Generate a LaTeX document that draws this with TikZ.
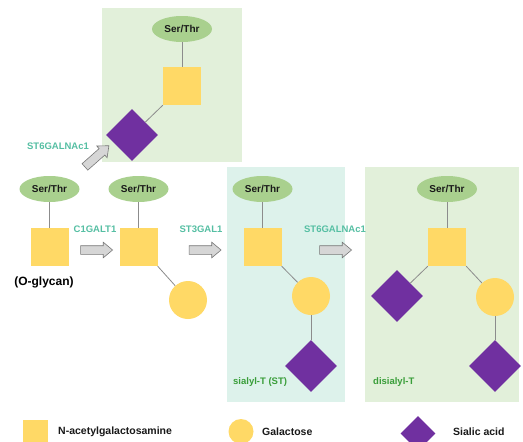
\documentclass[tikz,border=0pt]{standalone}
\usepackage{fontspec}
\setmainfont{Liberation Sans}
\usetikzlibrary{shapes.geometric,shapes.arrows}

\definecolor{galnac}{HTML}{FFD966}
\definecolor{sialic}{HTML}{7030A0}
\definecolor{serfill}{HTML}{A9D08E}
\definecolor{panelgreen}{HTML}{E2F0DA}
\definecolor{panelteal}{HTML}{DDF2EB}
\definecolor{enzymeteal}{HTML}{55BFA3}
\definecolor{stagegreen}{HTML}{3A9E3A}
\definecolor{linkgray}{HTML}{8C8C8C}
\definecolor{arrowfill}{HTML}{D6D6D6}
\definecolor{arrowedge}{HTML}{777777}

\begin{document}
\begin{tikzpicture}[x=1pt,y=-1pt,
  serthr/.style={ellipse, fill=serfill, minimum width=60pt, minimum height=26pt,
    inner sep=0pt, text=black!90, font=\bfseries\fontsize{10}{12}\selectfont},
  gnac/.style={rectangle, fill=galnac, minimum size=38pt, inner sep=0pt},
  gal/.style={circle, fill=galnac, minimum size=38pt, inner sep=0pt},
  sia/.style={diamond, fill=sialic, minimum width=52pt, minimum height=52pt,
    aspect=1, inner sep=0pt},
  link/.style={draw=linkgray, line width=0.8pt},
  enzyme/.style={text=enzymeteal, inner sep=0pt,
    font=\bfseries\fontsize{9.5}{11}\selectfont},
  stage/.style={text=stagegreen, inner sep=0pt, anchor=west,
    font=\bfseries\fontsize{9.5}{11}\selectfont},
  legendtext/.style={inner sep=0pt, anchor=west, text=black!90,
    font=\bfseries\fontsize{10.5}{12}\selectfont},
  blockarrow/.style={single arrow, draw=arrowedge, fill=arrowfill, line width=0.6pt,
    minimum height=32pt, inner xsep=0pt, inner ysep=4pt,
    single arrow head extend=3.5pt, single arrow tip angle=80}]

\clip (0,0) rectangle (523,442);
\fill[white] (0,0) rectangle (523,442);

% background panels
\fill[panelgreen] (102,8) rectangle (242,162);
\fill[panelteal] (227,167) rectangle (345,402);
\fill[panelgreen] (365,167) rectangle (519,402);

% branch: GalNAc with alpha2,6 sialic acid
\node[serthr] (st1) at (182,29) {Ser/Thr};
\node[gnac] (sq1) at (182,86) {};
\node[sia] (dia1) at (132,135) {};
\draw[link] (st1) -- (sq1);
\draw[link] (sq1.south west) -- (dia1);
\node[enzyme] (enz0) at (58,146) {ST6GALNAc1};
\node[blockarrow, rotate=41.5] (arr0) at (95,158) {};

% O-glycan core
\node[serthr] (stA) at (49.5,189) {Ser/Thr};
\node[gnac] (sqA) at (49.5,247) {};
\draw[link] (stA) -- (sqA);
\node[inner sep=0pt, font=\bfseries\fontsize{12}{14}\selectfont] (oglycan) at (44,282) {(O-glycan)};

\node[enzyme] (enz1) at (95,229) {C1GALT1};
\node[blockarrow] (arr1) at (94,250) {};

% T antigen
\node[serthr] (stB) at (138.5,189) {Ser/Thr};
\node[gnac] (sqB) at (138.5,247) {};
\node[gal] (galB) at (188,300) {};
\draw[link] (stB) -- (sqB);
\draw[link] (sqB.south east) -- (galB);

\node[enzyme] (enz2) at (201,229) {ST3GAL1};
\node[blockarrow] (arr2) at (202.5,250) {};

% sialyl-T
\node[serthr] (stC) at (262.5,189) {Ser/Thr};
\node[gnac] (sqC) at (262.5,247) {};
\node[gal] (galC) at (311,296) {};
\node[sia] (diaC) at (311,366) {};
\draw[link] (stC) -- (sqC);
\draw[link] (sqC.south east) -- (galC);
\draw[link] (galC) -- (diaC);
\node[stage] (lblC) at (233,382) {sialyl-T (ST)};

\node[enzyme] (enz3) at (335,229) {ST6GALNAc1};
\node[blockarrow] (arr3) at (333,250) {};

% disialyl-T
\node[serthr] (stD) at (447,189) {Ser/Thr};
\node[gnac] (sqD) at (447,247) {};
\node[sia] (diaD1) at (397,296) {};
\node[gal] (galD) at (495,297) {};
\node[sia] (diaD2) at (495,366) {};
\draw[link] (stD) -- (sqD);
\draw[link] (sqD.south west) -- (diaD1);
\draw[link] (sqD.south east) -- (galD);
\draw[link] (galD) -- (diaD2);
\node[stage] (lblD) at (373,382) {disialyl-T};

% legend
\node[gnac, minimum size=25pt] (legsq) at (35.5,432.5) {};
\node[legendtext] (legsqt) at (58,432) {N-acetylgalactosamine};
\node[gal, minimum size=25pt] (legci) at (241,431.5) {};
\node[legendtext] (legcit) at (262,432) {Galactose};
\node[sia, minimum width=35pt, minimum height=35pt] (legdi) at (418,433.5) {};
\node[legendtext] (legdit) at (453,432) {Sialic acid};

\end{tikzpicture}
\end{document}
